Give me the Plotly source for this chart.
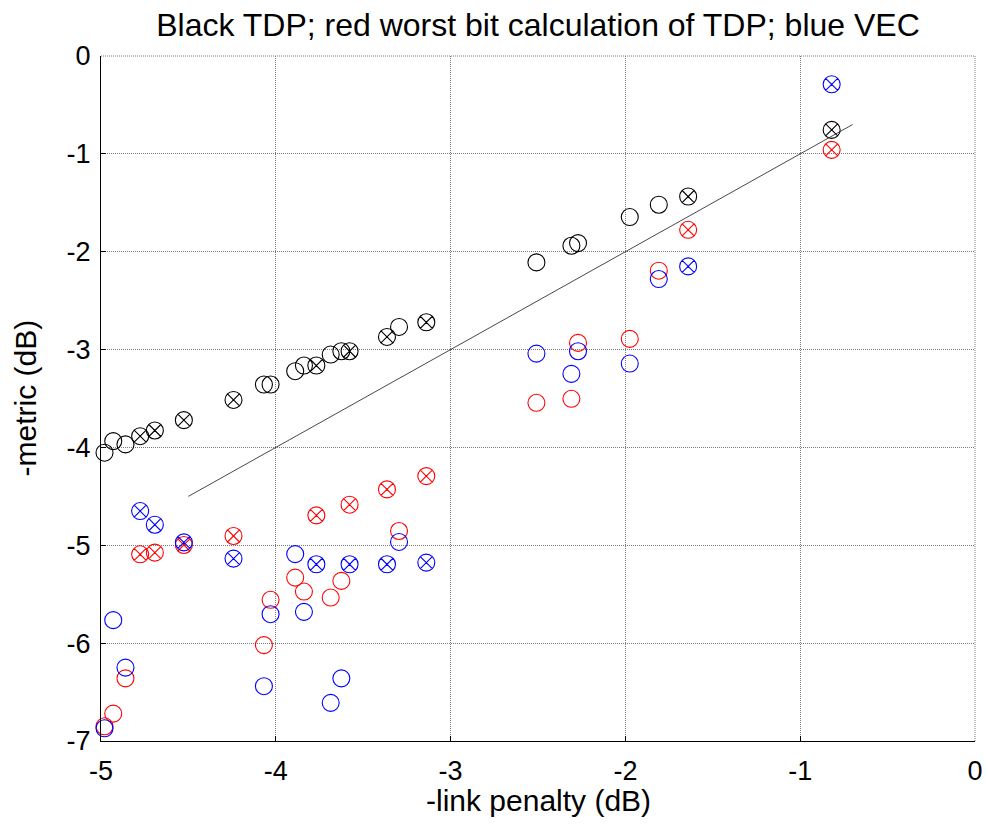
import plotly.graph_objects as go

# x positions (-link penalty, dB) shared by all three series
x_vals = [-4.98, -4.93, -4.86, -4.776, -4.692, -4.526, -4.242, -4.068, -4.03,
          -3.889, -3.839, -3.768, -3.686, -3.625, -3.578, -3.364, -3.295, -3.139,
          -2.509, -2.309, -2.271, -1.975, -1.809, -1.641, -0.82]

# 1 = circle with cross, 0 = plain circle
crossed = [0, 0, 0, 1, 1, 1, 1, 0, 0,
           0, 0, 1, 0, 0, 1, 1, 0, 1,
           0, 0, 0, 0, 0, 1, 1]

black_tdp = [-4.054, -3.936, -3.969, -3.885, -3.827, -3.721, -3.515, -3.357, -3.357,
             -3.221, -3.163, -3.163, -3.051, -3.017, -3.017, -2.871, -2.769, -2.721,
             -2.109, -1.939, -1.912, -1.646, -1.520, -1.436, -0.755]

red_worst_bit = [-6.85, -6.72, -6.36, -5.092, -5.075, -4.997, -4.905, -6.02, -5.557,
                 -5.33, -5.473, -4.694, -5.534, -5.364, -4.585, -4.429, -4.854, -4.293,
                 -3.544, -3.503, -2.932, -2.891, -2.194, -1.776, -0.959]

blue_vec = [-6.87, -5.765, -6.25, -4.65, -4.79, -4.97, -5.136, -6.44, -5.704,
            -5.09, -5.68, -5.194, -6.61, -6.36, -5.194, -5.194, -4.966, -5.177,
            -3.041, -3.248, -3.017, -3.143, -2.279, -2.15, -0.289]

# reference line y = x
line_x = [-4.5, -0.7]
line_y = [-4.5, -0.7]

x_ticks = [-5, -4, -3, -2, -1, 0]
y_ticks = [-7, -6, -5, -4, -3, -2, -1, 0]

FONT = "Liberation Sans, Arial, sans-serif"
GRID_COLOR = "#7a7a7a"
GRID_DASH = "1px,1px"

W, H = 986, 832
ML, MR, MT, MB = 101, 11, 56, 91

symbols = ["circle-x-open" if c else "circle-open" for c in crossed]

fig = go.Figure()
for yv, col in [(black_tdp, "#000000"), (red_worst_bit, "#ff0000"), (blue_vec, "#0000ff")]:
    fig.add_trace(go.Scatter(
        x=x_vals, y=yv, mode="markers",
        marker=dict(symbol=symbols, size=17, color=col, line=dict(color=col, width=1.1)),
        cliponaxis=False, showlegend=False, hoverinfo="skip"))

fig.add_trace(go.Scatter(x=line_x, y=line_y, mode="lines",
                         line=dict(color="#333333", width=0.9),
                         showlegend=False, hoverinfo="skip"))

axis_common = dict(
    automargin=False,
    showgrid=True, gridcolor=GRID_COLOR, griddash=GRID_DASH, gridwidth=1,
    zeroline=False, showline=True, linecolor="#000000", linewidth=1,
    ticks="inside", ticklen=5, tickcolor="#000000",
    tickfont=dict(family=FONT, size=27, color="#000000"),
)

# grid lines along the top and right edges of the axes box (as MATLAB draws them)
edge_style = dict(color=GRID_COLOR, width=1, dash=GRID_DASH)
fig.add_shape(type="line", xref="paper", yref="paper", x0=0, x1=1, y0=1, y1=1,
              line=edge_style, layer="below")
fig.add_shape(type="line", xref="paper", yref="paper", x0=1, x1=1, y0=0, y1=1,
              line=edge_style, layer="below")

# axis titles placed as annotations for precise positioning
plot_w = W - ML - MR
plot_h = H - MT - MB
fig.add_annotation(text="-link penalty (dB)", xref="paper", yref="paper",
                   x=0.5, y=-(801 - (H - MB)) / plot_h, xanchor="center", yanchor="middle",
                   showarrow=False, font=dict(family=FONT, size=30, color="#000000"))
fig.add_annotation(text="-metric (dB)", xref="paper", yref="paper",
                   x=-(ML - 25) / plot_w, y=0.5, xanchor="center", yanchor="middle",
                   textangle=-90, showarrow=False,
                   font=dict(family=FONT, size=30, color="#000000"))

fig.update_layout(
    width=W, height=H,
    margin=dict(l=ML, r=MR, t=MT, b=MB),
    paper_bgcolor="white", plot_bgcolor="white",
    title=dict(text="Black TDP; red worst bit calculation of TDP; blue VEC",
               font=dict(family=FONT, size=32, color="#000000"),
               x=0.5, xref="paper", xanchor="center",
               y=1 - 25 / H, yref="container", yanchor="middle"),
    xaxis=dict(range=[-5, 0], tickvals=x_ticks, ticktext=[str(v) for v in x_ticks],
               ticklabelstandoff=6, **axis_common),
    yaxis=dict(range=[-7, 0], tickvals=y_ticks, ticktext=[str(v) for v in y_ticks],
               ticklabelstandoff=4, **axis_common),
)

fig.write_html("out.html")
